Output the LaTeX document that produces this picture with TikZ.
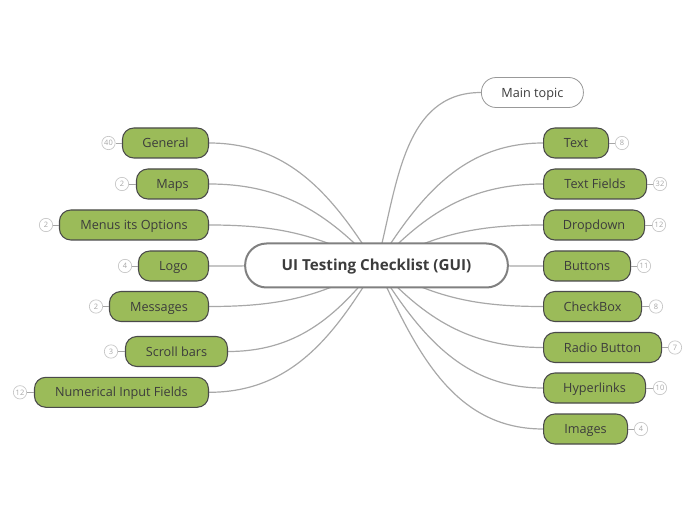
\documentclass[tikz,border=0pt]{standalone}
\usepackage{fontspec}
\setmainfont{Open Sans}
\usetikzlibrary{backgrounds}
\definecolor{leafgreen}{HTML}{9BBB59}
\definecolor{leafline}{HTML}{4A4A4A}
\definecolor{txtgray}{HTML}{3C3C3C}
\definecolor{wiregray}{HTML}{A8A8A8}
\tikzset{
  leaf/.style={draw=leafline,line width=0.8pt,fill=leafgreen,rounded corners=8.5pt,minimum height=22.5pt,inner sep=0pt,text height=6.9pt,text depth=0pt,text=txtgray,font=\fontsize{9.5}{11}\selectfont},
  topic/.style={draw=gray!80,line width=0.6pt,fill=white,rounded corners=11pt,minimum height=22.5pt,inner sep=0pt,text height=6.9pt,text depth=0pt,text=txtgray,font=\fontsize{9.5}{11}\selectfont},
  centre/.style={draw=gray,line width=1.5pt,fill=white,rounded corners=16pt,minimum height=33pt,inner sep=0pt,text height=8.2pt,text depth=0pt,text=txtgray,font=\bfseries\fontsize{11.4}{13}\selectfont},
  badge/.style={circle,draw=gray!45,line width=0.5pt,minimum size=10pt,inner sep=0pt,text=gray!70,font=\fontsize{5.6}{6}\selectfont},
  wire/.style={draw=wiregray,line width=0.9pt},
  tick/.style={draw=gray!70,line width=0.6pt}
}
\begin{document}
\begin{tikzpicture}[x=0.75pt,y=-0.75pt]
\useasboundingbox (0,0) rectangle (696,520);
\node[centre,minimum width=197pt] (ui) at (376.5,265.5) {UI Testing Checklist (GUI)};
\node[topic,minimum width=76.5pt,anchor=west] (main) at (481,92.5) {Main topic};
%left
\node[leaf,minimum width=64.5pt,anchor=east] (general) at (209,143) {General};
\node[leaf,minimum width=54pt,anchor=east] (maps) at (209,184) {Maps};
\node[leaf,minimum width=111.75pt,anchor=east] (menus) at (209,225) {Menus its Options};
\node[leaf,minimum width=52.5pt,anchor=east] (logo) at (209,266) {Logo};
\node[leaf,minimum width=74.25pt,anchor=east] (messages) at (209,306.5) {Messages};
\node[leaf,minimum width=76.5pt,anchor=east] (scroll) at (228,351.5) {Scroll bars};
\node[leaf,minimum width=130.5pt,anchor=east] (numeric) at (209,392.3) {Numerical Input Fields};
%right
\node[leaf,minimum width=48.75pt,anchor=west] (text) at (543,143) {Text};
\node[leaf,minimum width=77.25pt,anchor=west] (fields) at (543,184) {Text Fields};
\node[leaf,minimum width=75.75pt,anchor=west] (dropdown) at (543,225) {Dropdown};
\node[leaf,minimum width=65.25pt,anchor=west] (buttons) at (543,266) {Buttons};
\node[leaf,minimum width=73.5pt,anchor=west] (checkbox) at (543,306.5) {CheckBox};
\node[leaf,minimum width=88.5pt,anchor=west] (radio) at (543,347.5) {Radio Button};
\node[leaf,minimum width=76.5pt,anchor=west] (hyper) at (543,388) {Hyperlinks};
\node[leaf,minimum width=63pt,anchor=west] (images) at (543,429) {Images};
%counts
\node[badge] (generalN) at (108.5,143) {40};
\node[badge] (mapsN) at (122,184) {2};
\node[badge] (menusN) at (46,225) {2};
\node[badge] (logoN) at (125,266) {4};
\node[badge] (messagesN) at (96,306.5) {2};
\node[badge] (scrollN) at (111,351.5) {3};
\node[badge] (numericN) at (20,392.3) {12};
\node[badge] (textN) at (622,143) {8};
\node[badge] (fieldsN) at (660,184) {32};
\node[badge] (dropdownN) at (659,225) {12};
\node[badge] (buttonsN) at (644,266) {11};
\node[badge] (checkboxN) at (656,306.5) {8};
\node[badge] (radioN) at (675,347.5) {7};
\node[badge] (hyperN) at (660,388) {10};
\node[badge] (imagesN) at (641,429) {4};
\draw[tick] (general) -- (generalN);
\draw[tick] (maps) -- (mapsN);
\draw[tick] (menus) -- (menusN);
\draw[tick] (logo) -- (logoN);
\draw[tick] (messages) -- (messagesN);
\draw[tick] (scroll) -- (scrollN);
\draw[tick] (numeric) -- (numericN);
\draw[tick] (text) -- (textN);
\draw[tick] (fields) -- (fieldsN);
\draw[tick] (dropdown) -- (dropdownN);
\draw[tick] (buttons) -- (buttonsN);
\draw[tick] (checkbox) -- (checkboxN);
\draw[tick] (radio) -- (radioN);
\draw[tick] (hyper) -- (hyperN);
\draw[tick] (images) -- (imagesN);
%branches
\begin{pgfonlayer}{background}
\draw[wire] (ui.center) to[out=75,in=180] (main.west);
\draw[wire] (ui.center) to[out=122,in=0] (general.east);
\draw[wire] (ui.center) to[out=133,in=0] (maps.east);
\draw[wire] (ui.center) to[out=152,in=0] (menus.east);
\draw[wire] (ui.center) -- (logo.east);
\draw[wire] (ui.center) to[out=209,in=0] (messages.east);
\draw[wire] (ui.center) to[out=232,in=0] (scroll.east);
\draw[wire] (ui.center) to[out=239,in=0] (numeric.east);
\draw[wire] (ui.center) to[out=58,in=180] (text.west);
\draw[wire] (ui.center) to[out=47,in=180] (fields.west);
\draw[wire] (ui.center) to[out=28,in=180] (dropdown.west);
\draw[wire] (ui.center) -- (buttons.west);
\draw[wire] (ui.center) to[out=331,in=180] (checkbox.west);
\draw[wire] (ui.center) to[out=312,in=180] (radio.west);
\draw[wire] (ui.center) to[out=302,in=180] (hyper.west);
\draw[wire] (ui.center) to[out=295,in=180] (images.west);
\end{pgfonlayer}
\end{tikzpicture}
\end{document}
